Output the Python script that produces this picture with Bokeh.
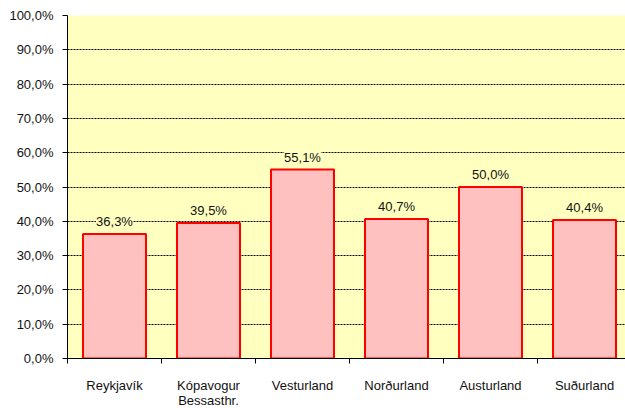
from bokeh.plotting import figure
from bokeh.models import Range1d, FixedTicker, ColumnDataSource, LabelSet, LinearAxis, Grid
from bokeh.core.properties import value
from bokeh.embed import file_html
from bokeh.resources import INLINE

categories = ["Reykjavík", "Kópavogur\nBessasthr.", "Vesturland", "Norðurland", "Austurland", "Suðurland"]
values = [36.3, 39.5, 55.1, 40.7, 50.0, 40.4]
y_ticks = [0, 10, 20, 30, 40, 50, 60, 70, 80, 90, 100]

FONT = "Liberation Sans"
FS = "13px"

centers = [i + 0.5 for i in range(len(categories))]
labels = [("%.1f%%" % v).replace(".", ",") for v in values]
src = ColumnDataSource(dict(x=centers, top=values, lab=labels))

p = figure(width=625, height=414, output_backend="svg", toolbar_location=None,
           x_range=Range1d(0, 5.936), y_range=Range1d(0, 100),
           min_border_left=67, min_border_right=0, min_border_top=15, min_border_bottom=56,
           x_axis_type=None, y_axis_type=None)
p.background_fill_color = "#FFFFC0"
p.border_fill_color = "white"
p.outline_line_color = None

yticker = FixedTicker(ticks=y_ticks)
grid = Grid(dimension=1, ticker=FixedTicker(ticks=y_ticks[1:]), grid_line_color="black",
            grid_line_dash="2 1", grid_line_width=1)
p.add_layout(grid)

p.vbar(x="x", top="top", bottom=0, width=0.67, source=src,
       fill_color="#FFC0C0", line_color="#FF0000", line_width=2)

lbl = LabelSet(x="x", y="top", text="lab", source=src, text_align="center",
               text_baseline="bottom", y_offset=5, text_font=value(FONT), text_font_size=value(FS),
               text_color="#111111", background_fill_color="#FFFFC0")
p.add_layout(lbl)

yaxis = LinearAxis(ticker=yticker)
yaxis.major_label_overrides = {t: ("%.1f%%" % t).replace(".", ",") for t in y_ticks}
yaxis.major_label_text_font = FONT
yaxis.major_label_text_font_size = FS
yaxis.major_label_text_color = "#111111"
yaxis.major_tick_out = 5
yaxis.major_tick_in = 0
yaxis.minor_tick_line_color = None
yaxis.major_label_standoff = 9
yaxis.axis_line_color = "black"
p.add_layout(yaxis, "left")

xaxis = LinearAxis(ticker=FixedTicker(ticks=centers, minor_ticks=list(range(0, len(categories)))))
xaxis.major_label_overrides = {c: lab for c, lab in zip(centers, categories)}
xaxis.major_label_text_font = FONT
xaxis.major_label_text_font_size = FS
xaxis.major_label_text_color = "#111111"
xaxis.major_label_text_line_height = 1.05
xaxis.major_tick_line_color = None
xaxis.major_tick_out = 0
xaxis.major_tick_in = 0
xaxis.minor_tick_out = 5
xaxis.minor_tick_in = 0
xaxis.minor_tick_line_color = "black"
xaxis.major_label_standoff = 14
xaxis.axis_line_color = "black"
p.add_layout(xaxis, "below")

html = file_html(p, INLINE)
html = html.replace("<head>", "<head><style>html,body{overflow:hidden;}</style>", 1)
open("out.html", "w").write(html)
